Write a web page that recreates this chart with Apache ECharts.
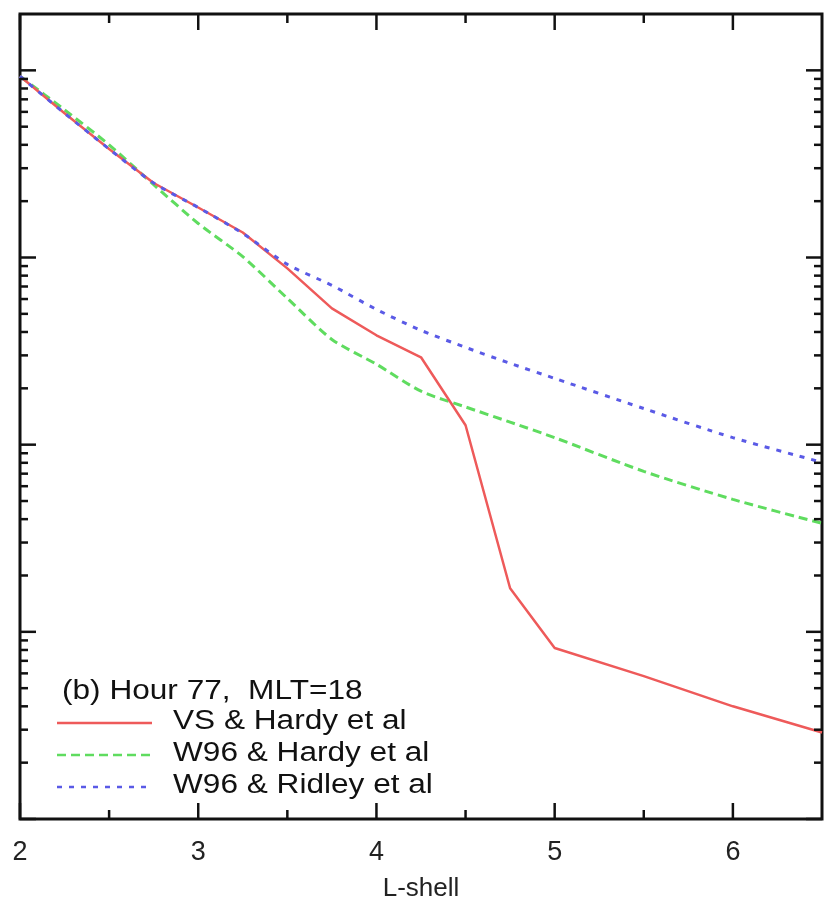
<!DOCTYPE html>
<html>
<head>
<meta charset="utf-8">
<script src="https://cdn.jsdelivr.net/npm/echarts@6/dist/echarts.min.js"></script>
<style>html,body{margin:0;padding:0;background:#fff}#chart{width:825px;height:914px}</style>
</head>
<body>
<div id="chart"></div>
<script>
// ---- data ----
const lShell = [2, 2.25, 2.5, 2.75, 3, 3.25, 3.5, 3.75, 4, 4.25, 4.5, 4.75, 5, 5.5, 6, 6.5];
const vsHardy =     [9300, 5900, 3800, 2500, 1850, 1360, 875, 535, 384, 293, 127, 17.1, 8.2, 5.8, 4.0, 2.9];
const w96Hardy =    [9300, 6150, 4000, 2450, 1520, 1010, 605, 365, 269, 193, 159, 132, 109, 72, 51, 38];
const w96Ridley =   [9300, 5900, 3800, 2500, 1850, 1345, 919, 710, 528, 408, 331, 272, 226, 156, 109, 80.5];
const seriesNames = ['VS & Hardy et al', 'W96 & Hardy et al', 'W96 & Ridley et al'];
const panelTitle = '(b) Hour 77,  MLT=18';
const xTickLabels = [2, 3, 4, 5, 6];
const xMinorTicks = [2.5, 3.5, 4.5, 5.5];
const yMajorTicks = [1, 10, 100, 1000, 10000];
const yMinorTicks = [];
[1, 10, 100, 1000, 10000].forEach(d => { for (let k = 2; k <= 9; k++) { if (d * k < 20000) yMinorTicks.push(d * k); } });

const X_MIN = 2, X_MAX = 6.5, Y_MIN = 1, Y_MAX = 20000;
const colors = ['#ee5a5a', '#5fdc5f', '#5a5ae6'];

const tickData = [];
yMajorTicks.forEach(v => { tickData.push([v, 'L', 16]); tickData.push([v, 'R', 16]); });
yMinorTicks.forEach(v => { tickData.push([v, 'L', 8]); tickData.push([v, 'R', 8]); });
xTickLabels.forEach(v => { tickData.push([v, 'B', 16]); tickData.push([v, 'T', 16]); });
xMinorTicks.forEach(v => { tickData.push([v, 'B', 9]); tickData.push([v, 'T', 9]); });

function zip(xs, ys) { return xs.map((x, i) => [x, ys[i]]); }

const chart = echarts.init(document.getElementById('chart'), null, {renderer: 'canvas'});
const lineX = 57, lineW = 95, textX = 173, rowY = [723, 755, 787];
const FONT = 'Liberation Sans, Arial, Helvetica, sans-serif';

const graphics = [{
  type: 'text', x: 62, y: 692, scaleX: 1.17,
  style: {text: panelTitle, fill: '#111', font: '27px ' + FONT, textVerticalAlign: 'middle'}
}];
const dashes = [null, [9, 5], [5, 7]];
seriesNames.forEach((n, i) => {
  graphics.push({type: 'line', shape: {x1: lineX, y1: rowY[i], x2: lineX + lineW, y2: rowY[i]},
    style: {stroke: colors[i], lineWidth: 2.5, lineDash: dashes[i]}});
  graphics.push({type: 'text', x: textX, y: rowY[i] - 1, scaleX: 1.17,
    style: {text: n, fill: '#111', font: '27px ' + FONT, textVerticalAlign: 'middle'}});
});

chart.setOption({
  animation: false,
  backgroundColor: '#fff',
  grid: {left: 20, right: 1, top: 14, bottom: 95, show: true, borderColor: '#111', borderWidth: 3, backgroundColor: 'transparent'},
  xAxis: {
    type: 'value', min: X_MIN, max: X_MAX, interval: 1,
    name: 'L-shell', nameLocation: 'middle', nameGap: 57,
    nameTextStyle: {fontSize: 26, fontFamily: FONT, color: '#222'},
    axisLine: {show: false}, axisTick: {show: false}, splitLine: {show: false},
    axisLabel: {fontSize: 27, fontFamily: FONT, color: '#222', margin: 20,
      formatter: v => (Number.isInteger(v) ? String(v) : '')}
  },
  yAxis: {
    type: 'log', min: Y_MIN, max: Y_MAX, logBase: 10,
    axisLine: {show: false}, axisTick: {show: false}, splitLine: {show: false},
    axisLabel: {show: false}
  },
  graphic: graphics,
  series: [
    {name: seriesNames[0], type: 'line', data: zip(lShell, vsHardy), showSymbol: false, symbol: 'none',
      lineStyle: {color: colors[0], width: 2.5}, z: 3},
    {name: seriesNames[1], type: 'line', data: zip(lShell, w96Hardy), showSymbol: false, symbol: 'none', smooth: 0.25,
      lineStyle: {color: colors[1], width: 3, type: [9, 5]}, z: 2},
    {name: seriesNames[2], type: 'line', data: zip(lShell, w96Ridley), showSymbol: false, symbol: 'none', smooth: 0.25,
      lineStyle: {color: colors[2], width: 3, type: [5, 7]}, z: 4},
    {
      type: 'custom', clip: false, silent: true, z: 10,
      data: tickData,
      renderItem: function (params, api) {
        const v = api.value(0), side = tickData[params.dataIndex][1], len = tickData[params.dataIndex][2];
        let p, x2, y2;
        if (side === 'L') { p = api.coord([X_MIN, v]); x2 = p[0] + len; y2 = p[1]; }
        else if (side === 'R') { p = api.coord([X_MAX, v]); x2 = p[0] - len; y2 = p[1]; }
        else if (side === 'B') { p = api.coord([v, Y_MIN]); x2 = p[0]; y2 = p[1] - len; }
        else { p = api.coord([v, Y_MAX]); x2 = p[0]; y2 = p[1] + len; }
        return {type: 'line', shape: {x1: p[0], y1: p[1], x2: x2, y2: y2},
          style: {stroke: '#111', lineWidth: 2.5}};
      },
      encode: {x: -1, y: -1}
    }
  ]
});
</script>
</body>
</html>
